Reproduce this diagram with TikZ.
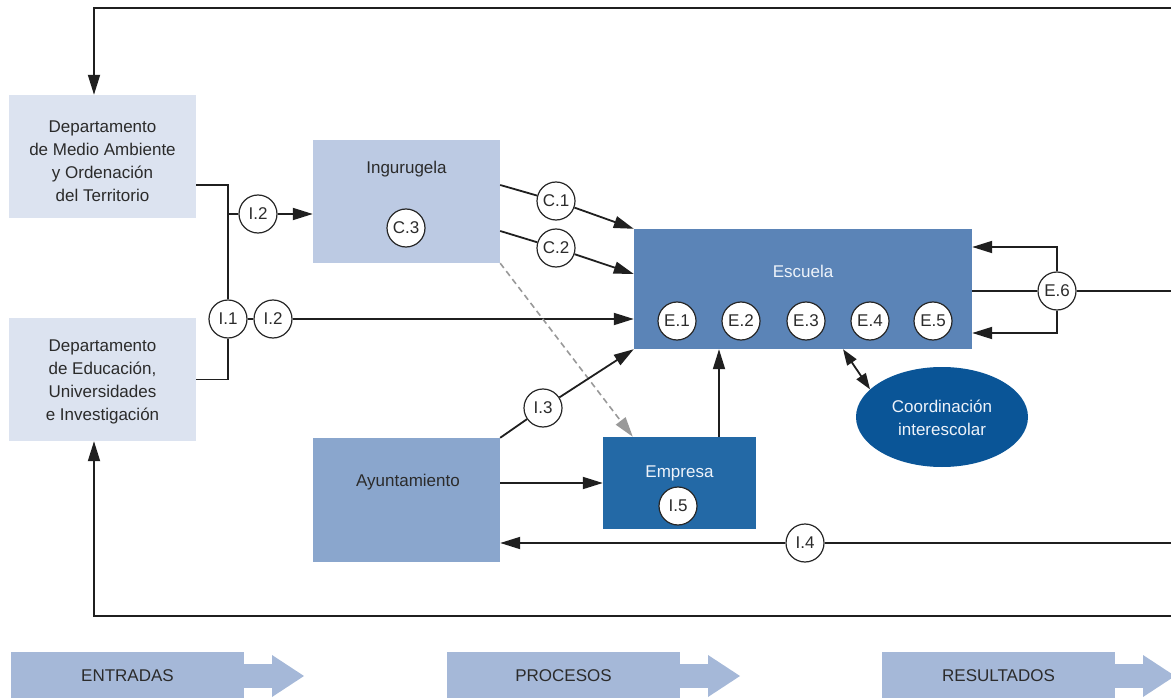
\documentclass[tikz,border=0pt]{standalone}
\usepackage{fontspec}
\setmainfont{Liberation Sans}
\usetikzlibrary{arrows.meta,shapes.geometric}
\definecolor{deptc}{HTML}{DCE3F0}
\definecolor{inguc}{HTML}{BCCAE3}
\definecolor{escc}{HTML}{5B84B7}
\definecolor{ayuc}{HTML}{8AA6CD}
\definecolor{empc}{HTML}{2369A6}
\definecolor{coordc}{HTML}{0A5597}
\definecolor{flowc}{HTML}{A5B8D8}
\definecolor{txtdark}{HTML}{2B2B2B}
\definecolor{txtlight}{HTML}{EEF3FA}
\tikzset{
  txt/.style={font=\fontsize{17}{23}\selectfont, align=center, inner sep=0pt},
  box/.style={fill=#1, minimum width=187pt, minimum height=123pt, inner sep=0pt},
  tag/.style={circle, draw=black!85, line width=1.2pt, fill=white, minimum size=38pt,
    inner sep=0pt, text=txtdark, font=\fontsize{17}{20}\selectfont},
  arr/.style={-{Triangle[length=20pt,width=12pt]}},
  link/.style={draw=black!88, line width=1.8pt},
}
\begin{document}
\begin{tikzpicture}[x=1pt,y=-1pt]
  \useasboundingbox (0,0) rectangle (1171,698);
  % boxes
  \node[box=deptc] (dma) at (102.5,156.5) {};
  \node[box=deptc] (deu) at (102.5,379.5) {};
  \node[box=inguc] (ingu) at (406.5,201.5) {};
  \node[box=ayuc, minimum height=124pt] (ayu) at (406.5,500) {};
  \node[box=escc, minimum width=338pt, minimum height=120pt] (esc) at (803,289) {};
  \node[box=empc, minimum width=153pt, minimum height=92pt] (emp) at (679.5,483) {};
  \node[ellipse, fill=coordc, minimum width=172pt, minimum height=100pt, inner sep=0pt] (coord) at (942,417) {};
  % texts inside
  \node[txt, text=txtdark] (dmatxt) at (102.5,161)
    {Departamento\\de Medio Ambiente\\y Ordenación\\del Territorio};
  \node[txt, text=txtdark] (deutxt) at (102.5,382)
    {Departamento\\de Educación,\\Universidades\\e Investigación};
  \node[txt, text=txtdark] (ingutxt) at (406.5,169) {Ingurugela};
  \node[txt, text=txtdark] (ayutxt) at (408,482) {Ayuntamiento};
  \node[txt, text=txtlight] (esctxt) at (803,271) {Escuela};
  \node[txt, text=txtlight] (emptxt) at (679.5,473) {Empresa};
  \node[txt, text=txtlight] (coordtxt) at (942,418) {Coordinación\\interescolar};
  % tags
  \node[tag] (c3) at (406,228) {C.3};
  \node[tag] (i5) at (678,506) {I.5};
  \foreach \n/\x in {1/677,2/741,3/806,4/870,5/933}
    \node[tag] (e\n) at (\x,321) {E.\n};
  \node[tag] (i1) at (228,319) {I.1};
  \node[tag] (i2a) at (258,214) {I.2};
  \node[tag] (i2b) at (273,319) {I.2};
  \node[tag] (c1) at (556,201) {C.1};
  \node[tag] (c2) at (556,248) {C.2};
  \node[tag] (i3) at (543,408) {I.3};
  \node[tag] (e6) at (1057,291) {E.6};
  \node[tag] (i4) at (805,543) {I.4};
  % connectors
  \begin{scope}[link]
    \draw[arr] (1180,8) -| ([xshift=-8.5pt]dma.north);
    \draw[arr] (1180,616) -| ([xshift=-8.5pt]deu.south);
    \draw ([yshift=-28.5pt]dma.east) -| (i1.north);
    \draw (deu.east) -| (i1.south);
    \draw (i2a -| i1) -- (i2a);
    \draw[arr] (i2a) -- (i2a -| ingu.west);
    \draw (i1) -- (i2b);
    \draw[arr] (i2b) -- (i2b -| esc.west);
    \draw ([yshift=16.5pt]ingu.east) -- (c1);
    \draw[arr] (c1) -- (esc.north west);
    \draw ([yshift=-29.5pt]ingu.east) -- (c2);
    \draw[arr] (c2) -- ([yshift=15pt]esc.west);
    \draw[arr, dashed, draw=black!40, line width=1.6pt, dash pattern=on 6pt off 4pt]
      (ingu.south east) -- ([xshift=30pt]emp.north west);
    \draw (ayu.north east) -- (i3);
    \draw[arr] (i3) -- (esc.south west);
    \draw[arr] (emp.west -| ayu.east) -- (emp.west);
    \draw[arr] ([xshift=39.5pt]emp.north) -- ([xshift=39.5pt]emp.north |- esc.south);
    \draw[{Triangle[length=16pt,width=11pt]}-{Triangle[length=16pt,width=11pt]}]
      ([xshift=40pt]esc.south) -- (coord.159);
    \draw (e6 -| esc.east) -- (e6) -- (1180,291);
    \draw[arr] (e6.north) |- ([yshift=42pt]esc.east);
    \draw[arr] (e6.south) |- ([yshift=-44pt]esc.east);
    \draw (1180,543) -- (i4);
    \draw[arr] (i4) -- (i4 -| ayu.east);
  \end{scope}
  % flow arrows
  \foreach \x/\lab in {11/ENTRADAS,447/PROCESOS,882/RESULTADOS} {
    \fill[flowc] (\x,652) rectangle ++(233,50);
    \fill[flowc] (\x+232,664) rectangle (\x+262,688);
    \fill[flowc] (\x+261,655) -- (\x+293,676) -- (\x+261,697) -- cycle;
    \node[txt, text=txtdark] (flow\x) at (\x+116.5,676) {\lab};
  }
\end{tikzpicture}
\end{document}
